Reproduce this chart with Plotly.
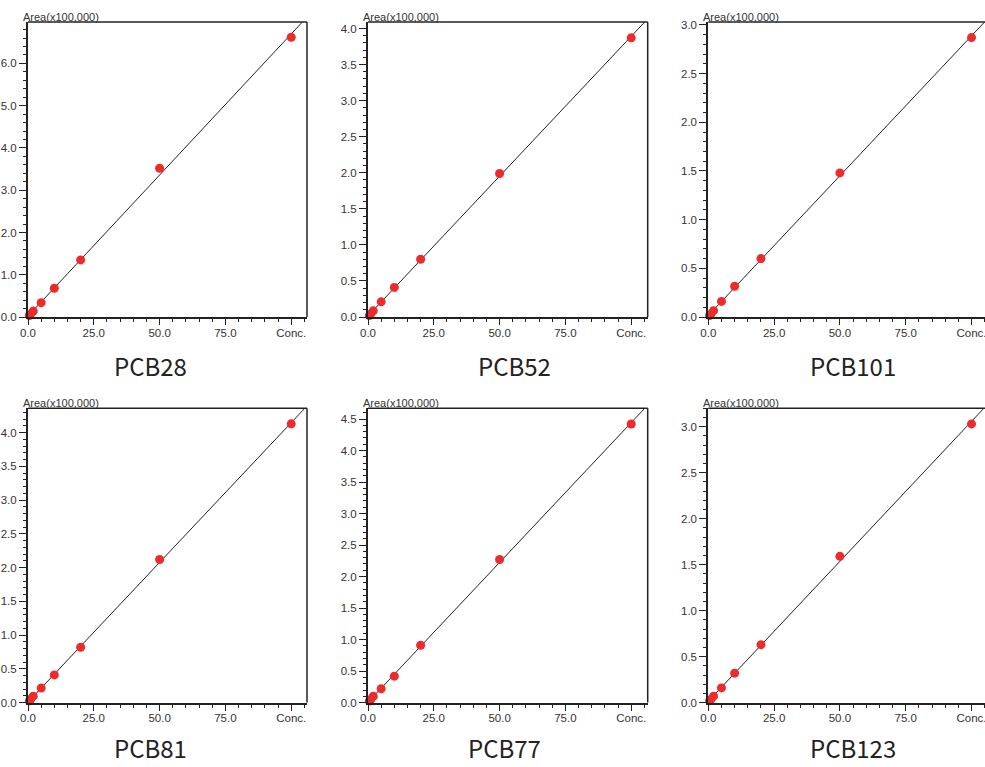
import numpy as np
import plotly.graph_objects as go

# ---- data ----
names = ["PCB28", "PCB52", "PCB101", "PCB81", "PCB77", "PCB123"]
conc = [0.5, 1, 2, 5, 10, 20, 50, 100]
pcb28 = [0.035, 0.07, 0.14, 0.34, 0.68, 1.35, 3.52, 6.62]
pcb52 = [0.02, 0.04, 0.085, 0.21, 0.41, 0.80, 1.99, 3.87]
pcb101 = [0.015, 0.03, 0.065, 0.16, 0.315, 0.60, 1.48, 2.87]
pcb81 = [0.025, 0.05, 0.095, 0.215, 0.41, 0.82, 2.12, 4.13]
pcb77 = [0.025, 0.05, 0.10, 0.22, 0.42, 0.91, 2.27, 4.42]
pcb123 = [0.02, 0.035, 0.07, 0.16, 0.32, 0.63, 1.59, 3.03]
series = [pcb28, pcb52, pcb101, pcb81, pcb77, pcb123]

x_tickvals = [0, 25, 50, 75, 100]
x_ticktext = ["0.0", "25.0", "50.0", "75.0", "Conc."]

# ---- layout geometry (pixels in a 985x767 page) ----
W, H = 985, 767
col_px = [(28, 307), (368, 647.7), (708.3, 985)]
row_px = [(22, 317), (408.3, 702.6)]
y_ranges = [6.98, 4.09, 3.03, 4.36, 4.67, 3.20]
y_dticks = [1.0, 0.5, 0.5, 0.5, 0.5, 0.5]
y_minor = [0.2, 0.1, 0.1, 0.1, 0.1, 0.1]
# title centre x and box-bottom y (pixels)
title_pos = [(150, 384.5), (514.5, 384.5), (853, 384.5), (150.5, 767), (504, 767), (853, 767)]

AX = "#222222"
FONT = "Liberation Sans, Arial"
tick_font = dict(family=FONT, size=11.5, color="#333333")

fig = go.Figure()
shapes = []
annotations = []

for i, (name, ys) in enumerate(zip(names, series)):
    r, c = divmod(i, 3)
    k = "" if i == 0 else str(i + 1)
    xa, ya = "x" + k, "y" + k
    x0p, x1p = col_px[c]
    y0p, y1p = row_px[r]
    xdom = [x0p / W, x1p / W]
    ydom = [1 - y1p / H, 1 - y0p / H]
    px_per_unit = (307 - 28) / 106.0
    xmax = (x1p - x0p) / px_per_unit

    # regression line
    slope, icpt = np.polyfit(conc, ys, 1)
    lx = np.array([0.0, xmax * 1.2])
    fig.add_trace(go.Scatter(x=lx, y=slope * lx + icpt, mode="lines",
                             line=dict(color="#222222", width=1),
                             xaxis=xa, yaxis=ya, showlegend=False, hoverinfo="skip"))
    fig.add_trace(go.Scatter(x=conc, y=ys, mode="markers",
                             marker=dict(color="#EE2A2A", size=9),
                             xaxis=xa, yaxis=ya, showlegend=False, cliponaxis=False))

    fig.layout["xaxis" + k] = dict(
        domain=xdom, anchor=ya, range=[0, xmax], automargin=False,
        tickvals=x_tickvals, ticktext=x_ticktext, ticklabeloverflow="allow",
        ticklabelstandoff=-2,
        ticks="outside", ticklen=6, tickwidth=1, tickcolor=AX,
        minor=dict(dtick=5, tick0=0, ticks="outside", ticklen=3, tickcolor=AX, tickwidth=1),
        showline=True, linewidth=2, linecolor=AX, showgrid=False, zeroline=False,
        tickfont=tick_font, fixedrange=True,
    )
    fig.layout["yaxis" + k] = dict(
        domain=ydom, anchor=xa, range=[0, y_ranges[i]], automargin=False,
        dtick=y_dticks[i], tick0=0, tickformat=".1f",
        ticks="outside", ticklen=7, tickwidth=1, tickcolor=AX,
        minor=dict(dtick=y_minor[i], tick0=0, ticks="outside", ticklen=3, tickcolor=AX, tickwidth=1),
        showline=True, linewidth=2, linecolor=AX, showgrid=False, zeroline=False,
        tickfont=tick_font, fixedrange=True,
    )

    # thin top and right border
    shapes.append(dict(type="line", xref=xa + " domain", yref=ya + " domain",
                       x0=0, x1=1, y0=1, y1=1, line=dict(color=AX, width=1.5)))
    if c < 2:
        shapes.append(dict(type="line", xref=xa + " domain", yref=ya + " domain",
                           x0=1, x1=1, y0=0, y1=1, line=dict(color=AX, width=1.5)))

    annotations.append(dict(text="Area(x100,000)", xref=xa + " domain", yref=ya + " domain",
                            x=0, y=1, xanchor="left", yanchor="bottom", xshift=-7, yshift=-3,
                            showarrow=False, font=dict(family=FONT, size=11, color="#333333")))
    tx, ty = title_pos[i]
    annotations.append(dict(text=name, xref="paper", yref="paper", x=tx / W, y=1 - ty / H,
                            xanchor="center", yanchor="bottom", showarrow=False,
                            font=dict(family="Noto Sans CJK JP, Noto Sans", size=24, color="#222222")))

fig.update_layout(width=W, height=H, margin=dict(l=0, r=0, t=0, b=0),
                  paper_bgcolor="white", plot_bgcolor="white",
                  shapes=shapes, annotations=annotations, showlegend=False)

fig.write_html("out.html", config={"displayModeBar": False})
